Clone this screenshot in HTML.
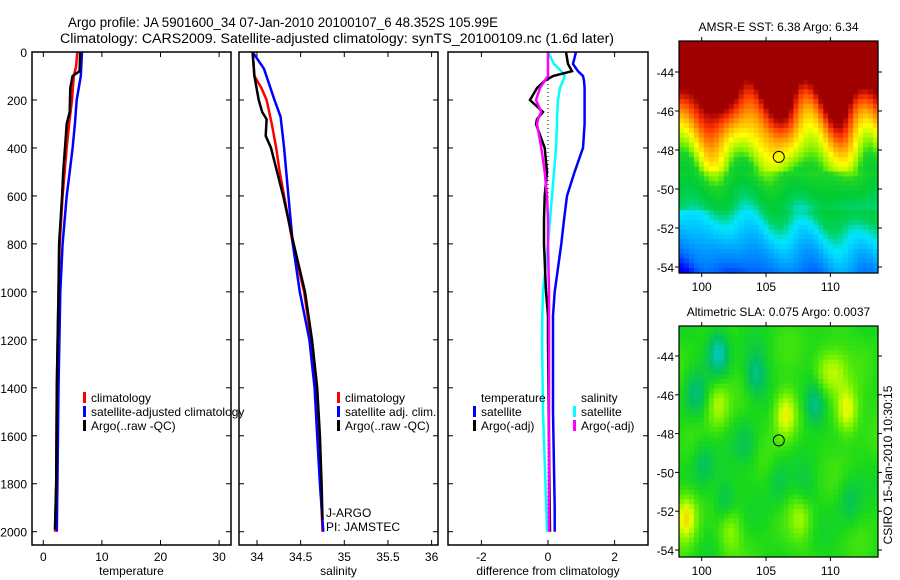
<!DOCTYPE html>
<html><head><meta charset="utf-8"><style>
body{margin:0;background:#fff;}
svg{display:block;font-family:"Liberation Sans",sans-serif;}
</style></head><body>
<svg id="fig" width="900" height="580" viewBox="0 0 900 580">
<text x="68" y="27" font-size="13.5" textLength="430" lengthAdjust="spacingAndGlyphs">Argo profile: JA 5901600_34 07-Jan-2010 20100107_6 48.352S 105.99E</text>
<text x="60" y="43" font-size="13.5" textLength="554" lengthAdjust="spacingAndGlyphs">Climatology: CARS2009. Satellite-adjusted climatology: synTS_20100109.nc (1.6d later)</text>
<g id="plots"></g>
<text transform="translate(892,465) rotate(-90)" text-anchor="middle" font-size="12">CSIRO 15-Jan-2010 10:30:15</text>
</svg>
<script>
const NS="http://www.w3.org/2000/svg";
const root=document.getElementById('plots');
function mk(tag,attrs,parent){const e=document.createElementNS(NS,tag);for(const k in attrs)e.setAttribute(k,attrs[k]);(parent||root).appendChild(e);return e;}

// ---- data ----
const depthTicks=[0,200,400,600,800,1000,1200,1400,1600,1800,2000];
const tempTicks=[0,10,20,30];
const salTicks=[34,34.5,35,35.5,36];
const diffTicks=[-2,0,2];

const tClimDepth=[0,60,100,200,300,400,600,800,1000,1400,1800,2000];
const tClim=[5.8,5.6,5.2,4.9,4.4,4.0,3.3,2.8,2.6,2.3,2.2,2.0];
const tSatDepth=[0,100,200,300,400,500,600,800,1000,1400,1800,2000];
const tSat=[6.6,6.4,5.7,5.4,5.0,4.5,4.0,3.3,2.9,2.6,2.4,2.3];
const tArgoDepth=[0,80,100,150,250,300,400,500,600,800,1000,1400,1800,1990];
const tArgo=[6.3,6.2,5.0,4.6,4.5,4.0,3.7,3.4,3.2,2.7,2.6,2.3,2.2,2.0];

const sClimDepth=[0,100,150,200,300,400,500,600,800,1000,1200,1400,1600,1800,2000];
const sClim=[33.95,33.97,34.05,34.11,34.17,34.22,34.26,34.31,34.41,34.54,34.62,34.68,34.71,34.73,34.75];
const sSatDepth=[0,70,200,270,400,600,800,1000,1200,1400,1600,1800,2000];
const sSat=[33.95,34.08,34.2,34.27,34.31,34.36,34.41,34.49,34.6,34.66,34.69,34.72,34.76];
const sArgoDepth=[0,100,200,250,280,350,400,500,600,800,1000,1200,1400,1600,1800,1950];
const sArgo=[33.95,33.97,34.02,34.06,34.11,34.1,34.16,34.23,34.3,34.42,34.55,34.63,34.69,34.72,34.74,34.75];

const dDepth=[0,50,80,100,120,150,200,250,280,300,400,500,600,700,800,1000,1100,1200,1500,1900,2000];
const dTempSat=[0.84,0.75,0.9,1.05,1.08,1.1,1.1,1.1,1.1,1.1,1.05,0.8,0.57,0.48,0.4,0.2,0.15,0.15,0.15,0.2,0.2];
const dSalSat=[0,0.18,0.4,0.5,0.45,0.36,0.3,0.28,0.27,0.27,0.24,0.18,0.12,0.06,0,-0.15,-0.17,-0.18,-0.15,-0.05,-0.03];
const dTempArgo=[0.54,0.6,0.72,0.15,-0.1,-0.33,-0.54,-0.15,-0.33,-0.36,-0.1,-0.03,-0.1,-0.12,-0.12,-0.06,0,0,0.02,0.05,0.06];
const dSalArgo=[0,0,0,0,-0.1,-0.24,-0.36,-0.2,-0.3,-0.33,-0.2,-0.1,-0.03,0,0,0.03,0.03,0.03,0.03,0.03,0.03];

// ---- axes geometry ----
const Y0=52,YB=545;
const yD=d=>Y0+d*(531.7-52)/2000;
const panels=[
 {x0:32,x1:231,fx:v=>43.3+v*5.86,ticks:tempTicks,label:'temperature',name:'temperature-panel'},
 {x0:239,x1:438,fx:v=>257+(v-34)*87.3,ticks:salTicks,label:'salinity',name:'salinity-panel'},
 {x0:448,x1:648,fx:v=>548+v*33.3,ticks:diffTicks,label:'difference from climatology',name:'difference-panel'}
];
panels.forEach((p,i)=>{
 const g=mk('g',{});
 
 
 p.g=g;
 const cp=mk('clipPath',{id:'cp'+i},g);mk('rect',{x:p.x0,y:Y0,width:p.x1-p.x0,height:YB-Y0},cp);
 p.ticks.forEach(t=>{const x=p.fx(t);
  mk('line',{x1:x,x2:x,y1:YB,y2:YB-5,stroke:'#000'},g);mk('line',{x1:x,x2:x,y1:Y0,y2:Y0+5,stroke:'#000'},g);
  const tx=mk('text',{x:x,y:YB+16,'text-anchor':'middle','font-size':12},g);tx.textContent=t;
  
  
 });
 depthTicks.forEach(d=>{const y=yD(d);
  mk('line',{x1:p.x0,x2:p.x0+5,y1:y,y2:y,stroke:'#000'},g);mk('line',{x1:p.x1,x2:p.x1-5,y1:y,y2:y,stroke:'#000'},g);
  if(i==0){const tx=mk('text',{x:27,y:y+5,'text-anchor':'end','font-size':12},g);tx.textContent=d;
   
   }
 });
 const xl=mk('text',{x:(p.x0+p.x1)/2,y:575,'text-anchor':'middle','font-size':12},g);xl.textContent=p.label;
 
 
 p.plot=mk('g',{'clip-path':'url(#cp'+i+')'},g);
 mk('rect',{x:p.x0,y:Y0,width:p.x1-p.x0,height:YB-Y0,fill:'none',stroke:'#000','stroke-width':1.5},g);
});
function line(p,ds,vs,color,name,dash){
 const pts=ds.map((d,k)=>p.fx(vs[k]).toFixed(1)+','+yD(d).toFixed(1)).join(' ');
 const pl=mk('polyline',{points:pts,fill:'none',stroke:color,'stroke-width':dash?1:2.5},p.plot);
 if(dash)pl.setAttribute('stroke-dasharray','1,3');
 
 
}
line(panels[0],tClimDepth,tClim,'#f00','temp-climatology-line');
line(panels[0],tSatDepth,tSat,'#00f','temp-satellite-line');
line(panels[0],tArgoDepth,tArgo,'#000','temp-argo-line');
line(panels[1],sClimDepth,sClim,'#f00','sal-climatology-line');
line(panels[1],sSatDepth,sSat,'#00f','sal-satellite-line');
line(panels[1],sArgoDepth,sArgo,'#000','sal-argo-line');
line(panels[2],[0,2000],[0,0],'#000','zero-line',true);
line(panels[2],dDepth,dTempSat,'#00f','diff-temp-satellite-line');
line(panels[2],dDepth,dSalSat,'#0ff','diff-sal-satellite-line');
line(panels[2],dDepth,dTempArgo,'#000','diff-temp-argo-line');
line(panels[2],dDepth,dSalArgo,'#f0f','diff-sal-argo-line');

function legend(x,y,label,color,name){
 if(color){const r=mk('rect',{x:x-8,y:y-10,width:3,height:11,fill:color});}
 const t=mk('text',{x:x,y:y,'font-size':12});t.textContent=label;
 
 
}
legend(91,402,'climatology','#f00','legend-climatology');
legend(91,416,'satellite-adjusted climatology','#00f','legend-satellite-adjusted');
legend(91,430,'Argo(..raw -QC)','#000','legend-argo');
legend(345,402,'climatology','#f00','legend-climatology-sal');
legend(345,416,'satellite adj. clim.','#00f','legend-satellite-sal');
legend(345,430,'Argo(..raw -QC)','#000','legend-argo-sal');
legend(481,402,'temperature',null,'legend-temperature-header');
legend(481,416,'satellite','#00f','legend-temp-satellite');
legend(481,430,'Argo(-adj)','#000','legend-temp-argo');
legend(581,402,'salinity',null,'legend-salinity-header');
legend(581,416,'satellite','#0ff','legend-sal-satellite');
legend(581,430,'Argo(-adj)','#f0f','legend-sal-argo');
legend(326,517,'J-ARGO',null,'float-program-label');
legend(326,531,'PI: JAMSTEC',null,'float-pi-label');

// ---- maps ----
const lonTicks=[100,105,110];
const latTicks=[-44,-46,-48,-50,-52,-54];
const argoLon=105.99, argoLat=-48.352;
const sstTitle='AMSR-E SST: 6.38 Argo: 6.34';
const slaTitle='Altimetric SLA: 0.075 Argo: 0.0037';
const sstStopLat=[-45.5,-46.3,-47.0,-47.8,-48.6,-49.3,-51.0,-51.8,-53.0,-54.3];
const sstStopVal=[1.0,0.86,0.76,0.67,0.58,0.47,0.42,0.34,0.27,0.2];
const slaBlobLon=[101.3,104.2,108.8,99.5,100.2,101.8,111.5,106.5,111.3,101.3,98.8,107.7,102.2,110.5,109.5,103.5,106,108];
const slaBlobLat=[-43.8,-45.0,-46.5,-46.0,-49.5,-51.5,-51.5,-47.0,-46.8,-46.5,-52.3,-52.3,-53.0,-44.8,-44.8,-48.5,-50.5,-51];
const slaBlobAmp=[-1.3,-1.0,-1.2,-0.8,-0.7,-0.8,-0.6,1.5,1.5,1.0,1.6,0.8,0.8,0.8,0.8,-0.5,-0.5,-0.4];

function jet(v){ // v 0..1
 const c=[[0,0,0.5],[0,0,1],[0,0.5,1],[0,0.9,1],[0,0.8,0.2],[0.5,0.95,0],[1,1,0],[1,0.6,0],[1,0.2,0],[0.62,0,0]];
 v=Math.max(0,Math.min(0.999,v))*(c.length-1);const i=Math.floor(v),f=v-i;
 const a=c[i],b=c[i+1];return 'rgb('+[0,1,2].map(k=>Math.round(255*(a[k]+(b[k]-a[k])*f))).join(',')+')';
}
function slaCol(v){
 const c=[[0,0.5,1],[0,0.8,0.85],[0,0.75,0.4],[0.1,0.85,0.1],[0.45,0.95,0],[0.9,1,0],[1,0.7,0]];
 v=Math.max(0,Math.min(0.999,v))*(c.length-1);const i=Math.floor(v),f=v-i;
 const a=c[i],b=c[i+1];return 'rgb('+[0,1,2].map(k=>Math.round(255*(a[k]+(b[k]-a[k])*f))).join(',')+')';
}
function sstVal(v){
 if(v>=sstStopLat[0])return sstStopVal[0];
 for(let k=1;k<sstStopLat.length;k++){
  if(v>=sstStopLat[k]){const f=(v-sstStopLat[k])/(sstStopLat[k-1]-sstStopLat[k]);return sstStopVal[k]+f*(sstStopVal[k-1]-sstStopVal[k]);}
 }
 return sstStopVal[sstStopVal.length-1]-(sstStopLat[sstStopLat.length-1]-v)*0.1;
}
function map(y0,y1,ylat44,ylat54,title,fn,name){
 const x0=679,x1=878;
 const fx=l=>701.7+(l-100)*12.87, fy=la=>ylat44+(la+44)*(ylat54-ylat44)/-10;
 const g=mk('g',{});
 
 
 const nx=40,ny=48,cw=(x1-x0)/nx,ch=(y1-y0)/ny;
 for(let i=0;i<nx;i++)for(let j=0;j<ny;j++){
  const lon=100+(x0+(i+0.5)*cw-701.7)/12.87, lat=-44-(y0+(j+0.5)*ch-ylat44)*10/(ylat54-ylat44);
  mk('rect',{x:(x0+i*cw).toFixed(2),y:(y0+j*ch).toFixed(2),width:(cw+0.6).toFixed(2),height:(ch+0.6).toFixed(2),fill:fn(lon,lat)},g);
 }
 const c=mk('circle',{cx:fx(argoLon),cy:fy(argoLat),r:5.5,fill:'none',stroke:'#000','stroke-width':1},g);
 
 
 lonTicks.forEach(l=>{const x=fx(l);mk('line',{x1:x,x2:x,y1:y0,y2:y0-4,stroke:'#000'},g);mk('line',{x1:x,x2:x,y1:y1,y2:y1+4,stroke:'#000'},g);
  const t=mk('text',{x:x,y:y1+18,'text-anchor':'middle','font-size':12},g);t.textContent=l;
  
  });
 latTicks.forEach(la=>{const y=fy(la);mk('line',{x1:x0,x2:x0-4,y1:y,y2:y,stroke:'#000'},g);mk('line',{x1:x1,x2:x1+4,y1:y,y2:y,stroke:'#000'},g);
  const t=mk('text',{x:x0-5,y:y+5,'text-anchor':'end','font-size':12},g);t.textContent=la;
  
  });
 mk('rect',{x:x0,y:y0,width:x1-x0,height:y1-y0,fill:'none',stroke:'#000','stroke-width':1.2},g);
 const t=mk('text',{x:(x0+x1)/2,y:y0-10,'text-anchor':'middle','font-size':12},g);t.textContent=title;
 
 
}
map(41,273,72,267,sstTitle,(lon,lat)=>{
 const w=(lat>-49?0.9:0.4)*Math.cos(2*Math.PI*(lon-101)/4.8)+0.3*Math.sin(lon*1.7+lat*0.9)+(lat<-51?(lon-104)*0.1:0);
 return jet(sstVal(lat+w));
},'sst-map');
map(326,557,356,550,slaTitle,(lon,lat)=>{
 let s=0.12*Math.sin(lon*1.3+lat*0.7)+0.1*Math.cos(lon*0.9-lat*1.4);
 for(let k=0;k<slaBlobLon.length;k++){const dx=(lon-slaBlobLon[k])/0.85,dy=(lat-slaBlobLat[k])/1.2;s+=slaBlobAmp[k]*Math.exp(-(dx*dx+dy*dy));}
 return slaCol(0.52+s*0.25);
},'sla-map');
</script>
</body></html>
